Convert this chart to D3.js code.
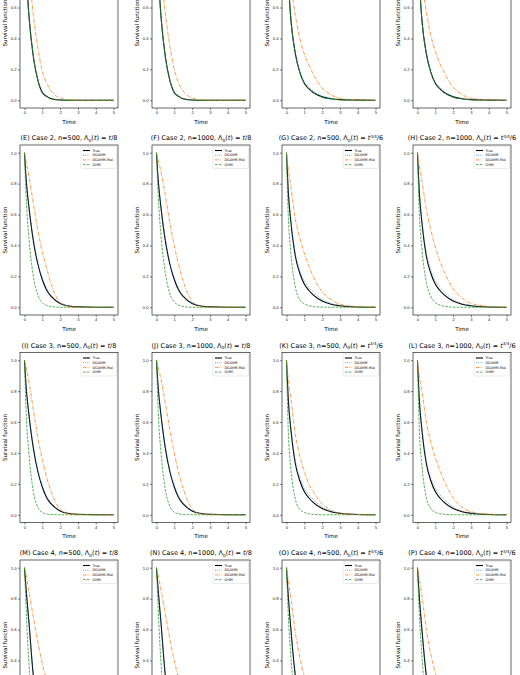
<!DOCTYPE html>
<html><head><meta charset="utf-8">
<script src="https://cdn.jsdelivr.net/npm/d3@7"></script>
<style>body{margin:0;background:#fff}svg{font-family:"DejaVu Sans",sans-serif}</style>
</head><body><svg id="c" width="520" height="675"></svg>
<script>
const times = [0,0.1,0.25,0.5,0.75,1,1.25,1.5,2,2.5,3,4,5];
const labels = ["A","B","C","D","E","F","G","H","I","J","K","L","M","N","O","P"];
const cases = [1,1,1,1,2,2,2,2,3,3,3,3,4,4,4,4];
const sizes = [500,1000,500,1000,500,1000,500,1000,500,1000,500,1000,500,1000,500,1000];
const baselines = ["lin","lin","pow","pow","lin","lin","pow","pow","lin","lin","pow","pow","lin","lin","pow","pow"];
const seriesNames = ["True","DGAHM","DGAHM-Mid","GHM"];
const xTicks = [0,1,2,3,4,5];
const yTicks = [0,0.2,0.4,0.6,0.8,1.0];
const trueVals = [
 [1,0.8,0.55,0.28,0.13,0.05,0.025,0.01,0.002,0,0,0,0],
 [1,0.8,0.55,0.28,0.13,0.05,0.025,0.01,0.002,0,0,0,0],
 [1,0.78,0.52,0.3,0.18,0.11,0.075,0.05,0.022,0.01,0.004,0.001,0],
 [1,0.78,0.52,0.3,0.18,0.11,0.075,0.05,0.022,0.01,0.004,0.001,0],
 [1,0.82,0.65,0.43,0.28,0.18,0.11,0.07,0.025,0.008,0.003,0,0],
 [1,0.82,0.65,0.43,0.28,0.18,0.11,0.07,0.025,0.008,0.003,0,0],
 [1,0.75,0.55,0.33,0.22,0.15,0.11,0.08,0.04,0.02,0.01,0.002,0],
 [1,0.75,0.55,0.33,0.22,0.15,0.11,0.08,0.04,0.02,0.01,0.002,0],
 [1,0.82,0.65,0.43,0.28,0.18,0.11,0.07,0.025,0.008,0.003,0,0],
 [1,0.82,0.65,0.43,0.28,0.18,0.11,0.07,0.025,0.008,0.003,0,0],
 [1,0.75,0.55,0.33,0.22,0.15,0.11,0.08,0.04,0.02,0.01,0.002,0],
 [1,0.75,0.55,0.33,0.22,0.15,0.11,0.08,0.04,0.02,0.01,0.002,0],
 [1,0.85,0.65,0.3,0.12,0.05,0.02,0.008,0.001,0,0,0,0],
 [1,0.85,0.65,0.3,0.12,0.05,0.02,0.008,0.001,0,0,0,0],
 [1,0.82,0.6,0.3,0.15,0.08,0.045,0.025,0.008,0.002,0,0,0],
 [1,0.82,0.6,0.3,0.15,0.08,0.045,0.025,0.008,0.002,0,0,0]];
const dgahmVals = [
 [1,0.79,0.54,0.28,0.14,0.06,0.03,0.012,0.003,0,0,0,0],
 [1,0.79,0.54,0.28,0.135,0.055,0.027,0.011,0.002,0,0,0,0],
 [1,0.78,0.52,0.31,0.19,0.12,0.085,0.06,0.028,0.012,0.005,0.001,0],
 [1,0.78,0.52,0.31,0.19,0.12,0.083,0.058,0.026,0.011,0.005,0.001,0],
 [1,0.82,0.65,0.44,0.29,0.19,0.12,0.075,0.028,0.01,0.003,0,0],
 [1,0.82,0.65,0.44,0.29,0.19,0.12,0.075,0.028,0.01,0.003,0,0],
 [1,0.75,0.56,0.35,0.24,0.17,0.13,0.1,0.05,0.025,0.012,0.003,0],
 [1,0.75,0.56,0.35,0.24,0.17,0.13,0.1,0.05,0.025,0.012,0.003,0],
 [1,0.82,0.65,0.44,0.29,0.19,0.12,0.075,0.028,0.01,0.003,0,0],
 [1,0.82,0.65,0.44,0.29,0.19,0.12,0.075,0.028,0.01,0.003,0,0],
 [1,0.75,0.56,0.35,0.24,0.17,0.13,0.1,0.05,0.025,0.012,0.003,0],
 [1,0.75,0.56,0.35,0.24,0.17,0.13,0.1,0.05,0.025,0.012,0.003,0],
 [1,0.85,0.65,0.31,0.13,0.055,0.022,0.009,0.001,0,0,0,0],
 [1,0.85,0.65,0.31,0.13,0.055,0.022,0.009,0.001,0,0,0,0],
 [1,0.82,0.6,0.31,0.16,0.085,0.05,0.028,0.009,0.002,0,0,0],
 [1,0.82,0.6,0.31,0.16,0.085,0.05,0.028,0.009,0.002,0,0,0]];
const midVals = [
 [1,0.93,0.82,0.55,0.34,0.19,0.11,0.06,0.015,0.003,0,0,0],
 [1,0.94,0.83,0.56,0.35,0.2,0.11,0.06,0.015,0.003,0,0,0],
 [1,0.9,0.75,0.55,0.4,0.3,0.23,0.17,0.08,0.035,0.013,0.002,0],
 [1,0.91,0.77,0.57,0.42,0.32,0.24,0.18,0.085,0.037,0.014,0.002,0],
 [1,0.94,0.85,0.67,0.5,0.36,0.25,0.15,0.03,0.005,0,0,0],
 [1,0.95,0.88,0.72,0.55,0.4,0.27,0.17,0.04,0.005,0,0,0],
 [1,0.9,0.78,0.57,0.45,0.35,0.27,0.2,0.1,0.05,0.02,0.004,0],
 [1,0.92,0.82,0.63,0.5,0.39,0.3,0.23,0.12,0.06,0.025,0.005,0],
 [1,0.95,0.86,0.68,0.5,0.36,0.24,0.15,0.035,0.005,0,0,0],
 [1,0.95,0.88,0.72,0.55,0.4,0.27,0.17,0.04,0.005,0,0,0],
 [1,0.88,0.75,0.52,0.38,0.28,0.2,0.15,0.07,0.03,0.01,0.002,0],
 [1,0.9,0.8,0.6,0.47,0.37,0.29,0.22,0.11,0.05,0.02,0.004,0],
 [1,0.95,0.85,0.68,0.52,0.38,0.27,0.18,0.06,0.015,0.003,0,0],
 [1,0.95,0.86,0.7,0.54,0.4,0.28,0.19,0.065,0.017,0.003,0,0],
 [1,0.92,0.8,0.58,0.42,0.3,0.22,0.16,0.07,0.03,0.01,0.001,0],
 [1,0.93,0.82,0.6,0.44,0.32,0.24,0.17,0.08,0.035,0.012,0.001,0]];
const ghmVals = [
 [1,0.79,0.55,0.29,0.13,0.05,0.022,0.009,0.001,0,0,0,0],
 [1,0.8,0.55,0.28,0.13,0.05,0.022,0.009,0.001,0,0,0,0],
 [1,0.78,0.53,0.3,0.18,0.11,0.075,0.05,0.02,0.008,0.003,0,0],
 [1,0.78,0.52,0.3,0.18,0.11,0.075,0.05,0.02,0.008,0.003,0,0],
 [1,0.7,0.45,0.2,0.08,0.03,0.012,0.005,0,0,0,0,0],
 [1,0.72,0.47,0.22,0.09,0.035,0.013,0.005,0,0,0,0,0],
 [1,0.6,0.35,0.13,0.05,0.022,0.01,0.005,0.001,0,0,0,0],
 [1,0.62,0.38,0.16,0.07,0.03,0.014,0.007,0.001,0,0,0,0],
 [1,0.65,0.4,0.15,0.05,0.015,0.005,0.002,0,0,0,0,0],
 [1,0.66,0.41,0.16,0.055,0.017,0.006,0.002,0,0,0,0,0],
 [1,0.55,0.3,0.1,0.035,0.015,0.006,0.003,0,0,0,0,0],
 [1,0.57,0.32,0.11,0.04,0.016,0.007,0.003,0,0,0,0,0],
 [1,0.72,0.38,0.1,0.03,0.01,0.003,0.001,0,0,0,0,0],
 [1,0.73,0.39,0.11,0.03,0.01,0.003,0.001,0,0,0,0,0],
 [1,0.7,0.42,0.13,0.04,0.014,0.005,0.002,0,0,0,0,0],
 [1,0.71,0.43,0.14,0.045,0.015,0.005,0.002,0,0,0,0,0]];

const styles = [
 {c:"#000000",w:1.1,d:null},
 {c:"#1f77b4",w:0.8,d:"0.8,1.4"},
 {c:"#ff7f0e",w:0.8,d:"3.5,1.2,0.8,1.2"},
 {c:"#2ca02c",w:0.8,d:"2.6,1.2"}];
const colLeft=[20,152,282,413], rowTop=[-62,145,352.5,560], W=98, H=170;
const svg=d3.select("#c");
const allSeries=[trueVals,dgahmVals,midVals,ghmVals];
labels.forEach((lab,i)=>{
  const L=colLeft[i%4], T=rowTop[Math.floor(i/4)];
  const x=d3.scaleLinear().domain([-0.25,5.25]).range([L,L+W]);
  const y=d3.scaleLinear().domain([-0.05,1.05]).range([T+H,T]);
  const g=svg.append("g");
  const cid="clip"+i;
  g.append("clipPath").attr("id",cid).append("rect").attr("x",L).attr("y",T).attr("width",W).attr("height",H);
  const line=d3.line().x((d,k)=>x(times[k])).y(d=>y(d)).curve(d3.curveMonotoneX);
  allSeries.forEach((s,si)=>{
    const st=styles[si];
    g.append("path").attr("clip-path",`url(#${cid})`).attr("d",line(s[i])).attr("fill","none")
     .attr("stroke",st.c).attr("stroke-width",st.w).attr("stroke-dasharray",st.d);
  });
  g.append("rect").attr("x",L).attr("y",T).attr("width",W).attr("height",H).attr("fill","none").attr("stroke","#000").attr("stroke-width",0.6);
  const xa=g.append("g").attr("transform",`translate(0,${T+H})`).call(d3.axisBottom(x).tickValues(xTicks).tickSize(2).tickPadding(1.5).tickFormat(d3.format("d")));
  const ya=g.append("g").attr("transform",`translate(${L},0)`).call(d3.axisLeft(y).tickValues(yTicks).tickSize(2).tickPadding(1.5).tickFormat(d3.format(".1f")));
  [xa,ya].forEach(a=>{a.select(".domain").remove();a.selectAll("text").attr("font-size",4.2).attr("fill","#222");a.selectAll("line").attr("stroke-width",0.5);});
  g.append("text").attr("x",L+W/2).attr("y",T+H+15.5).attr("text-anchor","middle").attr("font-size",5.6).text("Time");
  g.append("text").attr("transform",`translate(${L-13},${T+H/2}) rotate(-90)`).attr("text-anchor","middle").attr("font-size",5.6).text("Survival function");
  const t=g.append("text").attr("x",L+W/2).attr("y",T-5).attr("text-anchor","middle").attr("font-size",6.5);
  t.append("tspan").text(`(${lab}) Case ${cases[i]}, n=${sizes[i]}, Λ`);
  t.append("tspan").attr("font-size",4.4).attr("dy",1.5).text("0");
  t.append("tspan").attr("dy",-1.5).text("(");
  t.append("tspan").attr("font-style","italic").text("t");
  t.append("tspan").text(") = ");
  if(baselines[i]==="lin"){t.append("tspan").attr("font-style","italic").text("t");t.append("tspan").text("/8");}
  else{t.append("tspan").attr("font-style","italic").text("t");t.append("tspan").attr("font-size",4).attr("dy",-2.5).text("3/4");t.append("tspan").attr("dy",2.5).text("/6");}
  const lg=g.append("g");
  const bx=L+W-37, by=T+1.5;
  lg.append("rect").attr("x",bx).attr("y",by).attr("width",35.5).attr("height",22).attr("fill","#fff").attr("stroke","#ccc").attr("stroke-width",0.4).attr("rx",1);
  seriesNames.forEach((n,si)=>{
    const st=styles[si], yy=by+4+si*4.7;
    lg.append("line").attr("x1",bx+2).attr("x2",bx+9).attr("y1",yy).attr("y2",yy).attr("stroke",st.c).attr("stroke-width",st.w).attr("stroke-dasharray",st.d);
    lg.append("text").attr("x",bx+11.5).attr("y",yy+1.2).attr("font-size",3.4).text(n);
  });
});
</script></body></html>
